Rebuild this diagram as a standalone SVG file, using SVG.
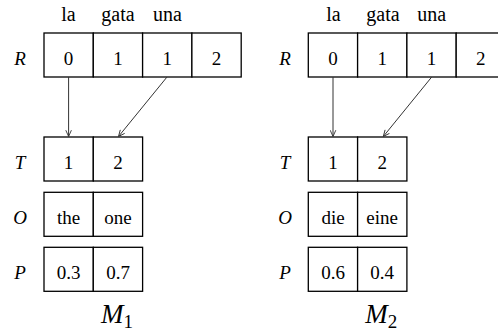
<svg xmlns="http://www.w3.org/2000/svg" width="498" height="331" viewBox="0 0 498 331">
<style>
.cell{fill:#fff;stroke:#000;stroke-width:1.3}
.conn{stroke:#333;stroke-width:1;fill:none;marker-end:url(#ah)}
</style>
<defs>
<marker id="ah" viewBox="0 0 10 10" refX="10" refY="5" markerWidth="7" markerHeight="7" markerUnits="userSpaceOnUse" orient="auto">
<path d="M1,1 L10,5 L1,9" fill="none" stroke="#333" stroke-width="1.3"/>
</marker>
</defs>
<rect width="498" height="331" fill="#fff"/>
<g font-family="'Liberation Serif', 'Times New Roman', serif" fill="#000">
<g id="M1">
<g id="M1-header" font-size="20" text-anchor="middle">
<text x="68.5" y="20.5">la</text>
<text x="118" y="20.5">gata</text>
<text x="167.5" y="20.5">una</text>
</g>
<g id="M1-R" font-size="19" text-anchor="middle">
<text x="20" y="64.5" font-style="italic">R</text>
<rect class="cell" x="44" y="33" width="49.3" height="44"/>
<rect class="cell" x="93.3" y="33" width="49.3" height="44"/>
<rect class="cell" x="142.6" y="33" width="49.3" height="44"/>
<rect class="cell" x="191.9" y="33" width="49.3" height="44"/>
<text x="68.6" y="64.5">0</text>
<text x="118" y="64.5">1</text>
<text x="167.2" y="64.5">1</text>
<text x="216.5" y="64.5">2</text>
</g>
<g id="M1-T" font-size="19" text-anchor="middle">
<text x="20" y="168.5" font-style="italic">T</text>
<rect class="cell" x="44" y="137" width="49.3" height="44"/>
<rect class="cell" x="93.3" y="137" width="49.3" height="44"/>
<text x="68.6" y="168.5">1</text>
<text x="118" y="168.5">2</text>
</g>
<g id="M1-O" font-size="19" text-anchor="middle">
<text x="20" y="223.5" font-style="italic">O</text>
<rect class="cell" x="44" y="192.3" width="49.3" height="44"/>
<rect class="cell" x="93.3" y="192.3" width="49.3" height="44"/>
<text x="68.6" y="223.5">the</text>
<text x="118" y="223.5">one</text>
</g>
<g id="M1-P" font-size="19" text-anchor="middle">
<text x="20" y="278.5" font-style="italic">P</text>
<rect class="cell" x="44" y="247.3" width="49.3" height="44"/>
<rect class="cell" x="93.3" y="247.3" width="49.3" height="44"/>
<text x="68.6" y="278.5">0.3</text>
<text x="118" y="278.5">0.7</text>
</g>
<text x="101" y="323" font-size="27" font-style="italic">M<tspan font-size="19" font-style="normal" dy="5">1</tspan></text>
</g>
<g id="M2">
<g id="M2-header" font-size="20" text-anchor="middle">
<text x="333.5" y="20.5">la</text>
<text x="383" y="20.5">gata</text>
<text x="431.8" y="20.5">una</text>
</g>
<g id="M2-R" font-size="19" text-anchor="middle">
<text x="285" y="64.5" font-style="italic">R</text>
<rect class="cell" x="308.3" y="33" width="49.3" height="44"/>
<rect class="cell" x="357.6" y="33" width="49.3" height="44"/>
<rect class="cell" x="406.9" y="33" width="49.3" height="44"/>
<rect class="cell" x="456.2" y="33" width="49.3" height="44"/>
<text x="333" y="64.5">0</text>
<text x="382.2" y="64.5">1</text>
<text x="431.5" y="64.5">1</text>
<text x="480.8" y="64.5">2</text>
</g>
<g id="M2-T" font-size="19" text-anchor="middle">
<text x="285" y="168.5" font-style="italic">T</text>
<rect class="cell" x="308.3" y="137" width="49.3" height="44"/>
<rect class="cell" x="357.6" y="137" width="49.3" height="44"/>
<text x="333" y="168.5">1</text>
<text x="382.2" y="168.5">2</text>
</g>
<g id="M2-O" font-size="19" text-anchor="middle">
<text x="285" y="223.5" font-style="italic">O</text>
<rect class="cell" x="308.3" y="192.3" width="49.3" height="44"/>
<rect class="cell" x="357.6" y="192.3" width="49.3" height="44"/>
<text x="333" y="223.5">die</text>
<text x="382.2" y="223.5">eine</text>
</g>
<g id="M2-P" font-size="19" text-anchor="middle">
<text x="285" y="278.5" font-style="italic">P</text>
<rect class="cell" x="308.3" y="247.3" width="49.3" height="44"/>
<rect class="cell" x="357.6" y="247.3" width="49.3" height="44"/>
<text x="333" y="278.5">0.6</text>
<text x="382.2" y="278.5">0.4</text>
</g>
<text x="365.3" y="323" font-size="27" font-style="italic">M<tspan font-size="19" font-style="normal" dy="5">2</tspan></text>
</g>
</g>
<g id="connectors">
<line class="conn" x1="68.6" y1="77" x2="68.6" y2="136.5"/>
<line class="conn" x1="167" y1="77" x2="118.5" y2="136.5"/>
<line class="conn" x1="333" y1="77" x2="333" y2="136.5"/>
<line class="conn" x1="431.7" y1="77" x2="383.3" y2="136.5"/>
</g>
</svg>
